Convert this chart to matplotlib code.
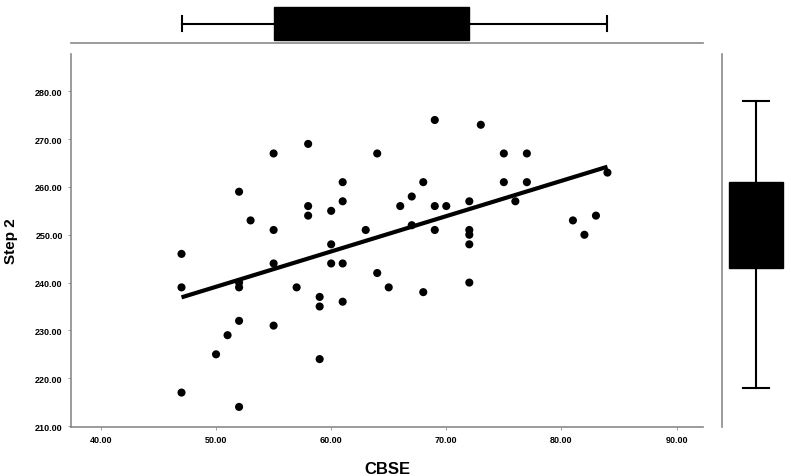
import numpy as np
import matplotlib
matplotlib.use("Agg")
import matplotlib.pyplot as plt

# scores (CBSE vs Step 2)
cbse = [47, 47, 47, 50, 51, 52, 52, 52, 52, 52, 53, 55, 55, 55, 55, 57,
        58, 58, 58, 59, 59, 59, 60, 60, 60, 61, 61, 61, 61, 63, 64, 64,
        65, 66, 67, 67, 68, 68, 69, 69, 69, 70, 72, 72, 72, 72, 72, 73,
        75, 75, 76, 77, 77, 81, 82, 83, 84]
step2 = [246, 239, 217, 225, 229, 259, 240, 239, 232, 214, 253, 267, 251, 244, 231, 239,
         269, 256, 254, 237, 235, 224, 255, 248, 244, 261, 257, 244, 236, 251, 267, 242,
         239, 256, 258, 252, 261, 238, 274, 256, 251, 256, 257, 251, 250, 248, 240, 273,
         267, 261, 257, 267, 261, 253, 250, 254, 263]

# marginal box plot summaries as drawn (whisker low, q1, median, q3, whisker high)
cbse_box = [47, 55, 63, 72, 84]
step2_box = [218, 243, 252, 261, 278]

x_ticks = [40, 50, 60, 70, 80, 90]
y_ticks = [210, 220, 230, 240, 250, 260, 270, 280]

W, H = 791, 477
fig = plt.figure(figsize=(W / 100, H / 100), dpi=100)
plt.rcParams['font.family'] = ['Liberation Sans', 'DejaVu Sans']

SPINE = '#8a8a8a'


def fig_rect(x0, y0, x1, y1):
    # pixel box (top-left origin) -> figure fraction
    return [x0 / W, 1 - y1 / H, (x1 - x0) / W, (y1 - y0) / H]


ax = fig.add_axes(fig_rect(71, 55, 703, 428))
ax.scatter(cbse, step2, s=34, color='black', edgecolors='none', zorder=3)

# least squares fit line
slope, icpt = np.polyfit(cbse, step2, 1)
xs = np.array([min(cbse), max(cbse)])
ax.plot(xs, slope * xs + icpt, color='black', lw=3, solid_capstyle='butt', zorder=2)

ax.set_xlim(37.4, 92.3)
ax.set_ylim(209.8, 287.8)
ax.set_xticks(x_ticks)
ax.set_yticks(y_ticks)
ax.set_xticklabels([f"{v:.2f}" for v in x_ticks])
ax.set_yticklabels([f"{v:.2f}" for v in y_ticks])
ax.tick_params(labelsize=6.5, length=2, width=0.6, color=SPINE, pad=4)
for lab in ax.get_xticklabels() + ax.get_yticklabels():
    lab.set_fontweight('bold')
for side in ['top', 'right']:
    ax.spines[side].set_visible(False)
for side in ['left', 'bottom']:
    ax.spines[side].set_color(SPINE)
    ax.spines[side].set_linewidth(1.2)
ax.set_xlabel('CBSE', fontsize=12, fontweight='bold', labelpad=12)
ax.set_ylabel('Step 2', fontsize=11, fontweight='bold', labelpad=12)

box_style = dict(
    patch_artist=True,
    boxprops=dict(facecolor='black', edgecolor='black'),
    medianprops=dict(color='black'),
    whiskerprops=dict(color='black', lw=1.5),
    capprops=dict(color='black', lw=1.5),
    showfliers=False,
)

# top marginal box plot
axt = fig.add_axes(fig_rect(71, 0, 703, 44), sharex=ax)
st = dict(whislo=cbse_box[0], q1=cbse_box[1], med=cbse_box[2],
          q3=cbse_box[3], whishi=cbse_box[4])
axt.bxp([st], positions=[19.5], widths=33, capwidths=15, vert=False, **box_style)
axt.set_ylim(0, 44)
axt.axis('on')
for side in ['top', 'right', 'left']:
    axt.spines[side].set_visible(False)
axt.spines['bottom'].set_color(SPINE)
axt.spines['bottom'].set_linewidth(1.2)
axt.tick_params(left=False, bottom=False, labelleft=False, labelbottom=False)

# right marginal box plot
axr = fig.add_axes(fig_rect(722, 55, 791, 428), sharey=ax)
sr = dict(whislo=step2_box[0], q1=step2_box[1], med=step2_box[2],
          q3=step2_box[3], whishi=step2_box[4])
axr.bxp([sr], positions=[33.5], widths=54, capwidths=26, vert=True, **box_style)
axr.set_xlim(0, 69)
for side in ['top', 'right', 'bottom']:
    axr.spines[side].set_visible(False)
axr.spines['left'].set_color(SPINE)
axr.spines['left'].set_linewidth(1.2)
axr.tick_params(left=False, bottom=False, labelleft=False, labelbottom=False)

fig.savefig('out.png', dpi=100)
